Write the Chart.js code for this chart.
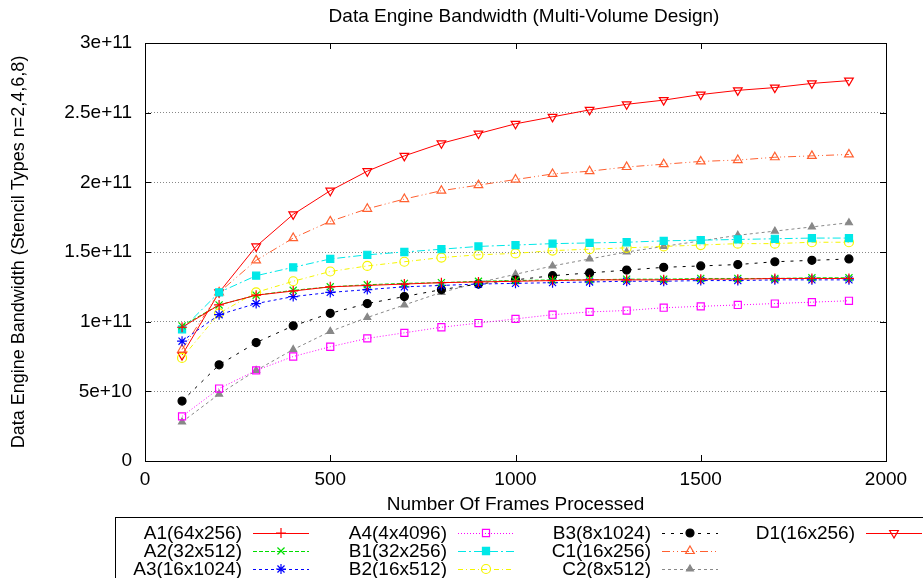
<!DOCTYPE html>
<html>
<head>
<meta charset="utf-8">
<title>Data Engine Bandwidth</title>
<script src="https://cdn.jsdelivr.net/npm/chart.js@4.4.1/dist/chart.umd.min.js"></script>
<style>
  html, body { margin: 0; padding: 0; background: #fff; }
  #wrap { width: 923px; height: 578px; }
</style>
</head>
<body>
<div id="wrap"><canvas id="chart" width="923" height="578"></canvas></div>
<script>
// ─── Data ─────────────────────────────────────────────────────────────────────

const FRAMES = [100, 200, 300, 400, 500, 600, 700, 800, 900, 1000,
                1100, 1200, 1300, 1400, 1500, 1600, 1700, 1800, 1900];

const A1 = [9.6e10, 1.12e11, 1.19e11, 1.22e11, 1.25e11, 1.26e11, 1.27e11, 1.28e11, 1.285e11, 1.29e11,
            1.295e11, 1.30e11, 1.30e11, 1.30e11, 1.305e11, 1.305e11, 1.31e11, 1.31e11, 1.31e11];
const A2 = [9.7e10, 1.12e11, 1.19e11, 1.225e11, 1.25e11, 1.265e11, 1.275e11, 1.28e11, 1.29e11, 1.295e11,
            1.30e11, 1.30e11, 1.305e11, 1.305e11, 1.31e11, 1.31e11, 1.31e11, 1.315e11, 1.315e11];
const A3 = [8.6e10, 1.05e11, 1.13e11, 1.18e11, 1.21e11, 1.23e11, 1.25e11, 1.26e11, 1.27e11, 1.275e11,
            1.28e11, 1.285e11, 1.29e11, 1.29e11, 1.295e11, 1.295e11, 1.30e11, 1.30e11, 1.30e11];
const A4 = [3.2e10, 5.2e10, 6.5e10, 7.5e10, 8.2e10, 8.8e10, 9.2e10, 9.6e10, 9.9e10, 1.02e11,
            1.05e11, 1.07e11, 1.08e11, 1.10e11, 1.11e11, 1.12e11, 1.13e11, 1.14e11, 1.15e11];
const B1 = [9.45e10, 1.21e11, 1.33e11, 1.39e11, 1.45e11, 1.48e11, 1.50e11, 1.52e11, 1.54e11, 1.55e11,
            1.56e11, 1.565e11, 1.57e11, 1.58e11, 1.585e11, 1.59e11, 1.595e11, 1.60e11, 1.60e11];
const B2 = [7.4e10, 1.06e11, 1.21e11, 1.29e11, 1.36e11, 1.40e11, 1.43e11, 1.46e11, 1.48e11, 1.49e11,
            1.51e11, 1.52e11, 1.53e11, 1.54e11, 1.55e11, 1.56e11, 1.56e11, 1.57e11, 1.57e11];
const B3 = [4.3e10, 6.9e10, 8.5e10, 9.7e10, 1.06e11, 1.13e11, 1.18e11, 1.23e11, 1.27e11, 1.30e11,
            1.33e11, 1.35e11, 1.37e11, 1.39e11, 1.40e11, 1.41e11, 1.43e11, 1.44e11, 1.45e11];
const C1 = [8.0e10, 1.21e11, 1.44e11, 1.60e11, 1.72e11, 1.81e11, 1.88e11, 1.94e11, 1.98e11, 2.02e11,
            2.06e11, 2.08e11, 2.11e11, 2.13e11, 2.15e11, 2.16e11, 2.18e11, 2.19e11, 2.20e11];
const C2 = [2.8e10, 4.8e10, 6.5e10, 8.0e10, 9.3e10, 1.03e11, 1.12e11, 1.21e11, 1.28e11, 1.34e11,
            1.40e11, 1.45e11, 1.50e11, 1.54e11, 1.58e11, 1.62e11, 1.65e11, 1.68e11, 1.71e11];
const D1 = [7.6e10, 1.21e11, 1.54e11, 1.77e11, 1.94e11, 2.08e11, 2.19e11, 2.28e11, 2.35e11, 2.42e11,
            2.47e11, 2.52e11, 2.56e11, 2.59e11, 2.63e11, 2.66e11, 2.68e11, 2.71e11, 2.73e11];

const Y_TICK_LABELS = ['0', '5e+10', '1e+11', '1.5e+11', '2e+11', '2.5e+11', '3e+11'];
const X_TICKS = [0, 500, 1000, 1500, 2000];

// ─── Style ────────────────────────────────────────────────────────────────────

const FONT = "'Liberation Sans', Arial, Helvetica, sans-serif";
const CLEAR = 'rgba(255,255,255,0)';
const TITLE = 'Data Engine Bandwidth (Multi-Volume Design)';

// [label, data, colour, dash, pointStyle, filled, rotation, radius]
const SERIES = [
  ['A1(64x256)',  A1, '#ff0000', [],                 'cross',    false, 0,   5],
  ['A2(32x512)',  A2, '#00dd00', [4, 2],             'crossRot', false, 0,   5],
  ['A3(16x1024)', A3, '#0000ff', [3, 3],             'star',     false, 0,   5],
  ['A4(4x4096)',  A4, '#ff00ff', [1, 2],             'rect',     false, 0,   5],
  ['B1(32x256)',  B1, '#00e8e8', [8, 3, 2, 3],       'rect',     true,  0,   5],
  ['B2(16x512)',  B2, '#f5f500', [5, 3, 1, 3],       'circle',   false, 0,   4.5],
  ['B3(8x1024)',  B3, '#000000', [3, 6],             'circle',   true,  0,   4],
  ['C1(16x256)',  C1, '#ff6030', [8, 3, 1, 3, 1, 3], 'triangle', false, 0,   5],
  ['C2(8x512)',   C2, '#888888', [3, 3],             'triangle', true,  0,   4],
  ['D1(16x256)',  D1, '#ff0000', [],                 'triangle', false, 180, 5],
];

const datasets = SERIES.map(([label, data, color, dash, style, filled, rot, r]) => ({
  label,
  data: data.map((y, i) => ({ x: FRAMES[i], y })),
  borderColor: color,
  backgroundColor: filled ? color : CLEAR,
  borderWidth: 1,
  borderDash: dash,
  pointStyle: style,
  pointRotation: rot,
  pointRadius: r,
  pointBorderWidth: 1.2,
  pointBorderColor: color,
  pointBackgroundColor: filled ? color : CLEAR,
  tension: 0,
  fill: false,
}));

// ─── Plugins: title, frame + inward ticks, gnuplot-style legend ──────────────

const plotTitle = {
  id: 'plotTitle',
  afterDraw(chart) {
    const { ctx } = chart;
    ctx.save();
    ctx.font = `19px ${FONT}`;
    ctx.fillStyle = '#000';
    ctx.textAlign = 'center';
    ctx.textBaseline = 'middle';
    ctx.fillText(TITLE, 524, 17);
    ctx.restore();
  },
};

const frame = {
  id: 'frame',
  afterDatasetsDraw(chart) {
    const { ctx, chartArea: a, scales: { x, y } } = chart;
    ctx.save();
    ctx.strokeStyle = '#000';
    ctx.lineWidth = 1;
    ctx.setLineDash([]);
    ctx.strokeRect(a.left + 0.5, a.top + 0.5, a.right - a.left, a.bottom - a.top);
    ctx.beginPath();
    X_TICKS.forEach(v => {
      const px = Math.round(x.getPixelForValue(v)) + 0.5;
      ctx.moveTo(px, a.bottom); ctx.lineTo(px, a.bottom - 6);
      ctx.moveTo(px, a.top);    ctx.lineTo(px, a.top + 6);
    });
    Y_TICK_LABELS.forEach((_, i) => {
      const py = Math.round(y.getPixelForValue(i * 5e10)) + 0.5;
      ctx.moveTo(a.left, py);  ctx.lineTo(a.left + 6, py);
      ctx.moveTo(a.right, py); ctx.lineTo(a.right - 6, py);
    });
    ctx.stroke();
    ctx.restore();
  },
};

const LEGEND_COLS = [['A1(64x256)', 'A2(32x512)', 'A3(16x1024)'],
                     ['A4(4x4096)', 'B1(32x256)', 'B2(16x512)'],
                     ['B3(8x1024)', 'C1(16x256)', 'C2(8x512)'],
                     ['D1(16x256)']];

const legendBox = {
  id: 'legendBox',
  afterDraw(chart) {
    const { ctx } = chart;
    const boxTop = 517, colX = [242, 447, 651, 855], rowY = [533, 551, 569];
    ctx.save();
    ctx.strokeStyle = '#000';
    ctx.lineWidth = 1;
    ctx.strokeRect(115.5, boxTop + 0.5, 830, 80);
    ctx.font = `19px ${FONT}`;
    ctx.textAlign = 'right';
    ctx.textBaseline = 'middle';
    LEGEND_COLS.forEach((col, c) => col.forEach((name, r) => {
      const ds = chart.data.datasets.find(d => d.label === name);
      const tx = colX[c], ty = rowY[r];
      ctx.fillStyle = '#000';
      ctx.fillText(name, tx, ty + 1);
      ctx.strokeStyle = ds.borderColor;
      ctx.lineWidth = 1;
      ctx.setLineDash(ds.borderDash);
      ctx.beginPath();
      ctx.moveTo(tx + 11, ty + 0.5);
      ctx.lineTo(tx + 67, ty + 0.5);
      ctx.stroke();
      ctx.setLineDash([]);
      ctx.fillStyle = ds.pointBackgroundColor;
      ctx.lineWidth = 1.2;
      Chart.helpers.drawPoint(ctx, {
        pointStyle: ds.pointStyle, rotation: ds.pointRotation,
        radius: ds.pointRadius, borderWidth: 1.2,
      }, tx + 39, ty);
    }));
    ctx.restore();
  },
};

// ─── Chart ────────────────────────────────────────────────────────────────────

new Chart(document.getElementById('chart'), {
  type: 'line',
  data: { datasets },
  plugins: [frame, legendBox, plotTitle],
  options: {
    responsive: false,
    animation: false,
    layout: { padding: { left: 0, right: 37, top: 43, bottom: 62 } },
    plugins: {
      legend: { display: false },
      tooltip: { enabled: false },
      title: { display: false },
    },
    scales: {
      x: {
        type: 'linear',
        min: 0, max: 2000,
        afterBuildTicks: s => { s.ticks = X_TICKS.map(v => ({ value: v })); },
        afterFit: s => { s.height = 55; },
        grid: { display: false, drawTicks: false },
        border: { display: false },
        ticks: { color: '#000', padding: 7, maxRotation: 0,
                 font: { family: FONT, size: 19 },
                 callback: v => String(v) },
        title: {
          display: true, text: 'Number Of Frames Processed', color: '#000',
          font: { family: FONT, size: 19 }, padding: { top: 0, bottom: 0 },
        },
      },
      y: {
        min: 0, max: 3e11,
        afterBuildTicks: s => { s.ticks = Y_TICK_LABELS.map((_, i) => ({ value: i * 5e10 })); },
        afterFit: s => { s.width = 145; },
        grid: { color: '#888', lineWidth: 1, borderDash: [1, 2], drawTicks: false },
        border: { display: false, dash: [1, 2] },
        ticks: {
          color: '#000', padding: 13,
          font: { family: FONT, size: 19 },
          callback: v => Y_TICK_LABELS[Math.round(v / 5e10)],
        },
        title: {
          display: true, text: 'Data Engine Bandwidth (Stencil Types n=2,4,6,8)', color: '#000',
          font: { family: FONT, size: 18 }, padding: { top: 8, bottom: 0 },
        },
      },
    },
  },
});
</script>
</body>
</html>
